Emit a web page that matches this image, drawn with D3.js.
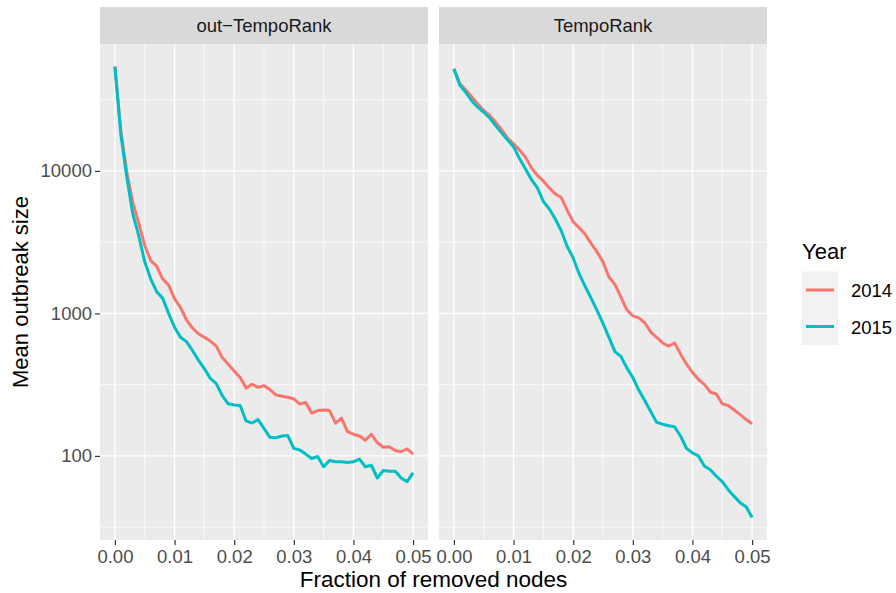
<!DOCTYPE html>
<html>
<head>
<meta charset="utf-8">
<script src="https://cdnjs.cloudflare.com/ajax/libs/d3/7.8.5/d3.min.js"></script>
<style>
  body { margin: 0; background: #fff; }
  text { font-family: "Liberation Sans", Arial, Helvetica, sans-serif; }
</style>
</head>
<body>
<script>
// fraction of removed nodes (shared by all series)
var fractions = [0.000, 0.001, 0.002, 0.003, 0.004, 0.005, 0.006, 0.007, 0.008, 0.009,
                 0.010, 0.011, 0.012, 0.013, 0.014, 0.015, 0.016, 0.017, 0.018, 0.019,
                 0.020, 0.021, 0.022, 0.023, 0.024, 0.025, 0.026, 0.027, 0.028, 0.029,
                 0.030, 0.031, 0.032, 0.033, 0.034, 0.035, 0.036, 0.037, 0.038, 0.039,
                 0.040, 0.041, 0.042, 0.043, 0.044, 0.045, 0.046, 0.047, 0.048, 0.049,
                 0.050];

var facets = ['out\u2212TempoRank', 'TempoRank'];
var years = ['2014', '2015'];
var yearColors = ['#F8766D', '#00BFC4'];

// out-TempoRank
var outTempo2014 = [54000, 19000, 9800, 6000, 4300, 3000, 2350, 2150, 1750, 1580,
                    1270, 1100, 900, 790, 720, 680, 640, 590, 490, 440,
                    395, 355, 300, 318, 303, 311, 292, 268, 262, 258,
                    251, 231, 237, 200, 208, 210, 208, 170, 184, 148,
                    142, 138, 129, 142, 124, 115, 116, 109, 107, 112,
                    103];
var outTempo2015 = [54000, 18000, 9000, 5000, 3500, 2300, 1750, 1420, 1280, 1000,
                    800, 680, 634, 550, 470, 410, 350, 322, 265, 232,
                    228, 226, 176, 170, 180, 156, 135, 134, 138, 139,
                    113, 110, 103, 96, 99, 84, 93, 91, 91, 90,
                    91, 95, 84, 86, 70, 79, 78, 78, 70, 66,
                    76];

// TempoRank
var tempo2014 = [52000, 41000, 37000, 33000, 29500, 26500, 24500, 22000, 19500, 17000,
                 15500, 14000, 12500, 10500, 9300, 8500, 7600, 6900, 6500, 5300,
                 4400, 4000, 3600, 3100, 2700, 2300, 1800, 1600, 1300, 1060,
                 960, 930, 860, 740, 680, 620, 590, 620, 520, 440,
                 385, 345, 318, 280, 272, 232, 226, 210, 195, 180,
                 168];
var tempo2015 = [52000, 40000, 35500, 31000, 28000, 25800, 23500, 20800, 18500, 16500,
                 14800, 12200, 10300, 8700, 7600, 6100, 5400, 4600, 3800, 2950,
                 2450, 1900, 1550, 1280, 1050, 850, 680, 540, 500, 415,
                 355, 290, 245, 205, 172, 167, 163, 160, 138, 113,
                 105, 100, 85, 80, 72, 66, 58, 52, 47, 44,
                 37];

var series = [
    [outTempo2014, outTempo2015],
    [tempo2014, tempo2015]
];

var yTicks = [100, 1000, 10000];
var yMinor = [31.6228, 316.228, 3162.28, 31622.8];
var xTicks = [0, 0.01, 0.02, 0.03, 0.04, 0.05];
var xMinor = [0.005, 0.015, 0.025, 0.035, 0.045];

var width = 896, height = 593;
var panelTop = 44, panelBottom = 540, panelW = 328;
var panelLefts = [100, 439];
var stripTop = 7;
var fontFam = '"Liberation Sans", Arial, Helvetica, sans-serif';

var svg = d3.select('body').append('svg')
            .attr('width', width).attr('height', height);

// log scale with ggplot-like 5% expansion
var all = [].concat(outTempo2014, outTempo2015, tempo2014, tempo2015);
var lmin = Math.log10(d3.min(all)), lmax = Math.log10(d3.max(all));
var pad = (lmax - lmin) * 0.05;
var y = d3.scaleLog()
          .domain([Math.pow(10, lmin - pad), Math.pow(10, lmax + pad)])
          .range([panelBottom, panelTop]);

facets.forEach(function (name, fi) {
    var left = panelLefts[fi];
    var x = d3.scaleLinear().domain([-0.0025, 0.0525]).range([left, left + panelW]);

    // strip
    svg.append('rect')
       .attr('x', left).attr('y', stripTop)
       .attr('width', panelW).attr('height', panelTop - stripTop)
       .attr('fill', '#D9D9D9');
    svg.append('text')
       .attr('x', left + panelW / 2).attr('y', 32)
       .attr('text-anchor', 'middle')
       .attr('font-size', 18.5).attr('fill', '#1A1A1A')
       .text(name);

    // panel background
    svg.append('rect')
       .attr('x', left).attr('y', panelTop)
       .attr('width', panelW).attr('height', panelBottom - panelTop)
       .attr('fill', '#EBEBEB');

    var g = svg.append('g');
    g.selectAll('.ymin').data(yMinor).enter().append('line')
     .attr('x1', left).attr('x2', left + panelW)
     .attr('y1', function (d) { return y(d); }).attr('y2', function (d) { return y(d); })
     .attr('stroke', '#fff').attr('stroke-width', 0.7);
    g.selectAll('.xmin').data(xMinor).enter().append('line')
     .attr('y1', panelTop).attr('y2', panelBottom)
     .attr('x1', function (d) { return x(d); }).attr('x2', function (d) { return x(d); })
     .attr('stroke', '#fff').attr('stroke-width', 0.7);
    g.selectAll('.ymaj').data(yTicks).enter().append('line')
     .attr('x1', left).attr('x2', left + panelW)
     .attr('y1', function (d) { return y(d); }).attr('y2', function (d) { return y(d); })
     .attr('stroke', '#fff').attr('stroke-width', 1.4);
    g.selectAll('.xmaj').data(xTicks).enter().append('line')
     .attr('y1', panelTop).attr('y2', panelBottom)
     .attr('x1', function (d) { return x(d); }).attr('x2', function (d) { return x(d); })
     .attr('stroke', '#fff').attr('stroke-width', 1.4);

    // lines
    var line = d3.line()
                 .x(function (d, i) { return x(fractions[i]); })
                 .y(function (d) { return y(d); });
    series[fi].forEach(function (vals, si) {
        svg.append('path')
           .datum(vals)
           .attr('d', line)
           .attr('fill', 'none')
           .attr('stroke', yearColors[si])
           .attr('stroke-width', 3)
           .attr('stroke-linejoin', 'round');
    });

    // x axis
    var xAxis = d3.axisBottom(x).tickValues(xTicks)
                  .tickFormat(d3.format('.2f')).tickSize(5).tickPadding(5);
    var ax = svg.append('g').attr('transform', 'translate(0,' + panelBottom + ')').call(xAxis);
    ax.select('.domain').remove();
    ax.selectAll('line').attr('stroke', '#333').attr('stroke-width', 1.2);
    ax.selectAll('text').attr('fill', '#4D4D4D').attr('font-size', 18.5)
      .style('font-family', fontFam);
});

// y axis
var yAxis = d3.axisLeft(y).tickValues(yTicks).tickFormat(d3.format('d'))
              .tickSize(5).tickPadding(3);
var ay = svg.append('g').attr('transform', 'translate(' + panelLefts[0] + ',0)').call(yAxis);
ay.select('.domain').remove();
ay.selectAll('line').attr('stroke', '#333').attr('stroke-width', 1.2);
ay.selectAll('text').attr('fill', '#4D4D4D').attr('font-size', 18.5)
  .style('font-family', fontFam);

// axis titles
svg.append('text')
   .attr('x', (panelLefts[0] + panelLefts[1] + panelW) / 2).attr('y', 587)
   .attr('text-anchor', 'middle').attr('font-size', 22.5).attr('fill', '#000')
   .text('Fraction of removed nodes');
svg.append('text')
   .attr('transform', 'translate(28,' + (panelTop + panelBottom) / 2 + ') rotate(-90)')
   .attr('text-anchor', 'middle').attr('font-size', 22).attr('fill', '#000')
   .text('Mean outbreak size');

// legend
var lg = svg.append('g').attr('transform', 'translate(802,0)');
lg.append('text').attr('x', 0).attr('y', 259)
  .attr('font-size', 22).attr('fill', '#000').text('Year');
years.forEach(function (yr, i) {
    var cy = 290 + i * 36.5;
    lg.append('rect').attr('x', 0).attr('y', cy - 18.5)
      .attr('width', 36).attr('height', 37).attr('fill', '#F2F2F2');
    lg.append('line').attr('x1', 4).attr('x2', 32)
      .attr('y1', cy).attr('y2', cy)
      .attr('stroke', yearColors[i]).attr('stroke-width', 3);
    lg.append('text').attr('x', 49).attr('y', cy + 7)
      .attr('font-size', 18.5).attr('fill', '#000').text(yr);
});
</script>
</body>
</html>
